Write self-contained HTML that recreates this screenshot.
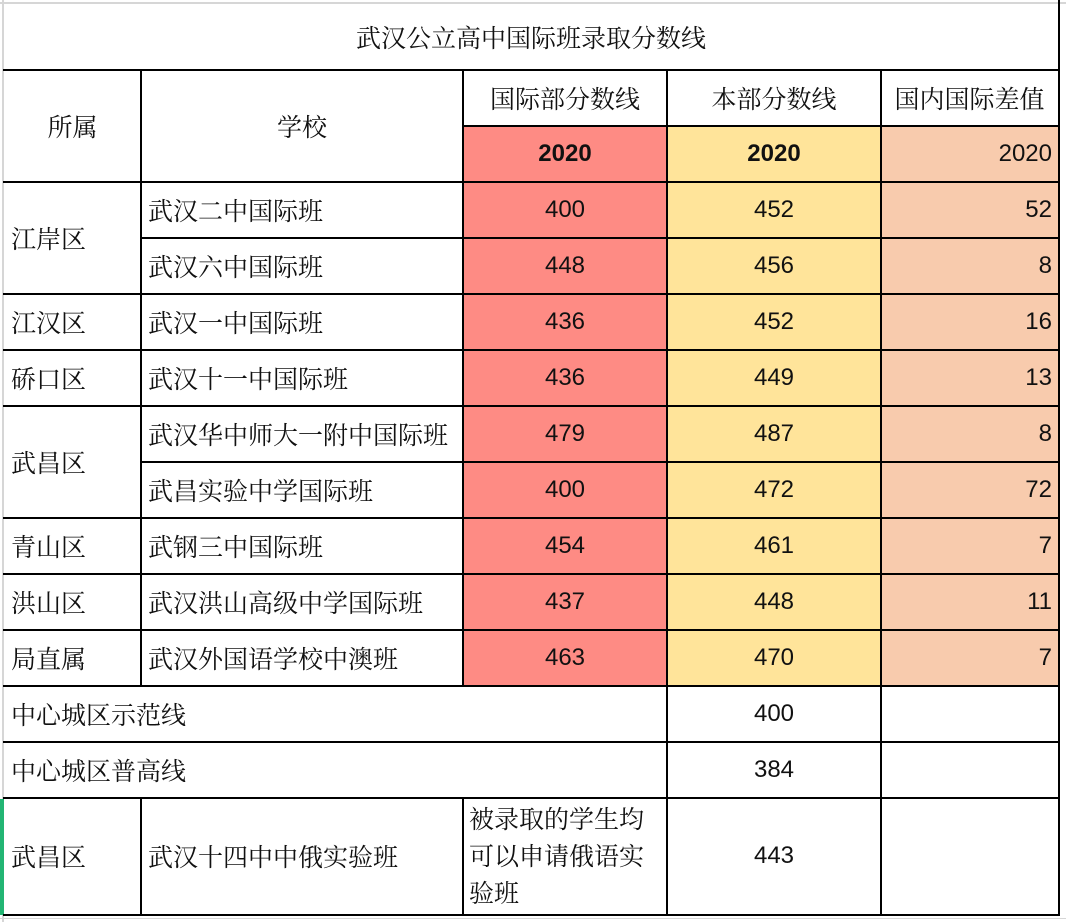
<!DOCTYPE html>
<html><head><meta charset="utf-8">
<style>
html,body{margin:0;padding:0;background:#fff;}
#t{position:relative;width:1066px;height:922px;overflow:hidden;background:#fff;
font-family:"Liberation Serif","Noto Serif CJK SC",serif;font-size:25px;color:#111;}
.c{position:absolute;display:flex;align-items:center;box-sizing:border-box;white-space:nowrap;}
.l{padding-left:7px;justify-content:flex-start;}
.m{justify-content:center;}
.r{justify-content:flex-end;padding-right:6px;}
.n{font-family:"Liberation Sans",sans-serif;font-size:24px;}
.b{font-weight:bold;}
.hl,.vl{position:absolute;background:#000;}
.hl{height:2px;}.vl{width:2px;}
.g{position:absolute;background:#d6d6d6;}
.red{background:#fe8b84;}.yel{background:#ffe49a;}.pch{background:#f8cbad;}
</style></head><body>
<div id="t">
<div class="g" style="left:2px;top:0;width:2px;height:922px"></div>
<div class="g" style="left:0;top:2px;width:1066px;height:2px"></div>
<div class="g" style="left:0;top:918px;width:1066px;height:1px"></div>
<div style="position:absolute;left:0;top:799px;width:4px;height:116px;background:#22b573"></div>

<div class="c m" style="left:4px;top:4px;width:1054px;height:66px">武汉公立高中国际班录取分数线</div>

<div class="c m" style="left:4px;top:70px;width:137px;height:112px">所属</div>
<div class="c m" style="left:141px;top:70px;width:322px;height:112px">学校</div>
<div class="c m" style="left:463px;top:70px;width:204px;height:56px">国际部分数线</div>
<div class="c m" style="left:667px;top:70px;width:214px;height:56px">本部分数线</div>
<div class="c m" style="left:881px;top:70px;width:177px;height:56px">国内国际差值</div>
<div class="c m n b red" style="left:463px;top:126px;width:204px;height:56px">2020</div>
<div class="c m n b yel" style="left:667px;top:126px;width:214px;height:56px">2020</div>
<div class="c r n pch" style="left:881px;top:126px;width:177px;height:56px">2020</div>

<div class="c l" style="left:4px;top:182px;width:137px;height:112px">江岸区</div>
<div class="c l" style="left:4px;top:294px;width:137px;height:56px">江汉区</div>
<div class="c l" style="left:4px;top:350px;width:137px;height:56px">硚口区</div>
<div class="c l" style="left:4px;top:406px;width:137px;height:112px">武昌区</div>
<div class="c l" style="left:4px;top:518px;width:137px;height:56px">青山区</div>
<div class="c l" style="left:4px;top:574px;width:137px;height:56px">洪山区</div>
<div class="c l" style="left:4px;top:630px;width:137px;height:56px">局直属</div>

<div class="c l" style="left:141px;top:182px;width:322px;height:56px">武汉二中国际班</div>
<div class="c l" style="left:141px;top:238px;width:322px;height:56px">武汉六中国际班</div>
<div class="c l" style="left:141px;top:294px;width:322px;height:56px">武汉一中国际班</div>
<div class="c l" style="left:141px;top:350px;width:322px;height:56px">武汉十一中国际班</div>
<div class="c l" style="left:141px;top:406px;width:322px;height:56px">武汉华中师大一附中国际班</div>
<div class="c l" style="left:141px;top:462px;width:322px;height:56px">武昌实验中学国际班</div>
<div class="c l" style="left:141px;top:518px;width:322px;height:56px">武钢三中国际班</div>
<div class="c l" style="left:141px;top:574px;width:322px;height:56px">武汉洪山高级中学国际班</div>
<div class="c l" style="left:141px;top:630px;width:322px;height:56px">武汉外国语学校中澳班</div>

<div class="c m n red" style="left:463px;top:182px;width:204px;height:56px">400</div>
<div class="c m n red" style="left:463px;top:238px;width:204px;height:56px">448</div>
<div class="c m n red" style="left:463px;top:294px;width:204px;height:56px">436</div>
<div class="c m n red" style="left:463px;top:350px;width:204px;height:56px">436</div>
<div class="c m n red" style="left:463px;top:406px;width:204px;height:56px">479</div>
<div class="c m n red" style="left:463px;top:462px;width:204px;height:56px">400</div>
<div class="c m n red" style="left:463px;top:518px;width:204px;height:56px">454</div>
<div class="c m n red" style="left:463px;top:574px;width:204px;height:56px">437</div>
<div class="c m n red" style="left:463px;top:630px;width:204px;height:56px">463</div>

<div class="c m n yel" style="left:667px;top:182px;width:214px;height:56px">452</div>
<div class="c m n yel" style="left:667px;top:238px;width:214px;height:56px">456</div>
<div class="c m n yel" style="left:667px;top:294px;width:214px;height:56px">452</div>
<div class="c m n yel" style="left:667px;top:350px;width:214px;height:56px">449</div>
<div class="c m n yel" style="left:667px;top:406px;width:214px;height:56px">487</div>
<div class="c m n yel" style="left:667px;top:462px;width:214px;height:56px">472</div>
<div class="c m n yel" style="left:667px;top:518px;width:214px;height:56px">461</div>
<div class="c m n yel" style="left:667px;top:574px;width:214px;height:56px">448</div>
<div class="c m n yel" style="left:667px;top:630px;width:214px;height:56px">470</div>

<div class="c r n pch" style="left:881px;top:182px;width:177px;height:56px">52</div>
<div class="c r n pch" style="left:881px;top:238px;width:177px;height:56px">8</div>
<div class="c r n pch" style="left:881px;top:294px;width:177px;height:56px">16</div>
<div class="c r n pch" style="left:881px;top:350px;width:177px;height:56px">13</div>
<div class="c r n pch" style="left:881px;top:406px;width:177px;height:56px">8</div>
<div class="c r n pch" style="left:881px;top:462px;width:177px;height:56px">72</div>
<div class="c r n pch" style="left:881px;top:518px;width:177px;height:56px">7</div>
<div class="c r n pch" style="left:881px;top:574px;width:177px;height:56px">11</div>
<div class="c r n pch" style="left:881px;top:630px;width:177px;height:56px">7</div>

<div class="c l" style="left:4px;top:686px;width:663px;height:56px">中心城区示范线</div>
<div class="c m n" style="left:667px;top:686px;width:214px;height:56px">400</div>
<div class="c l" style="left:4px;top:742px;width:663px;height:56px">中心城区普高线</div>
<div class="c m n" style="left:667px;top:742px;width:214px;height:56px">384</div>

<div class="c l" style="left:4px;top:798px;width:137px;height:116px">武昌区</div>
<div class="c l" style="left:141px;top:798px;width:322px;height:116px">武汉十四中中俄实验班</div>
<div class="c" style="left:463px;top:800px;width:204px;height:114px;white-space:normal;padding:2px 8px 0 6px;line-height:37px;align-items:flex-start">被录取的学生均可以申请俄语实验班</div>
<div class="c m n" style="left:667px;top:798px;width:214px;height:116px">443</div>

<div class="hl" style="left:3px;top:69px;width:1057px"></div>
<div class="hl" style="left:463px;top:125px;width:597px"></div>
<div class="hl" style="left:3px;top:181px;width:1057px"></div>
<div class="hl" style="left:141px;top:237px;width:919px"></div>
<div class="hl" style="left:3px;top:293px;width:1057px"></div>
<div class="hl" style="left:3px;top:349px;width:1057px"></div>
<div class="hl" style="left:3px;top:405px;width:1057px"></div>
<div class="hl" style="left:141px;top:461px;width:919px"></div>
<div class="hl" style="left:3px;top:517px;width:1057px"></div>
<div class="hl" style="left:3px;top:573px;width:1057px"></div>
<div class="hl" style="left:3px;top:629px;width:1057px"></div>
<div class="hl" style="left:3px;top:685px;width:1057px"></div>
<div class="hl" style="left:3px;top:741px;width:1057px"></div>
<div class="hl" style="left:3px;top:797px;width:1057px"></div>
<div class="hl" style="left:3px;top:914px;width:1057px"></div>

<div class="vl" style="left:140px;top:69px;height:618px"></div>
<div class="vl" style="left:140px;top:797px;height:119px"></div>
<div class="vl" style="left:462px;top:69px;height:618px"></div>
<div class="vl" style="left:462px;top:797px;height:119px"></div>
<div class="vl" style="left:666px;top:69px;height:847px"></div>
<div class="vl" style="left:880px;top:69px;height:847px"></div>
<div class="vl" style="left:1058px;top:0;height:916px"></div>
</div>
</body></html>
